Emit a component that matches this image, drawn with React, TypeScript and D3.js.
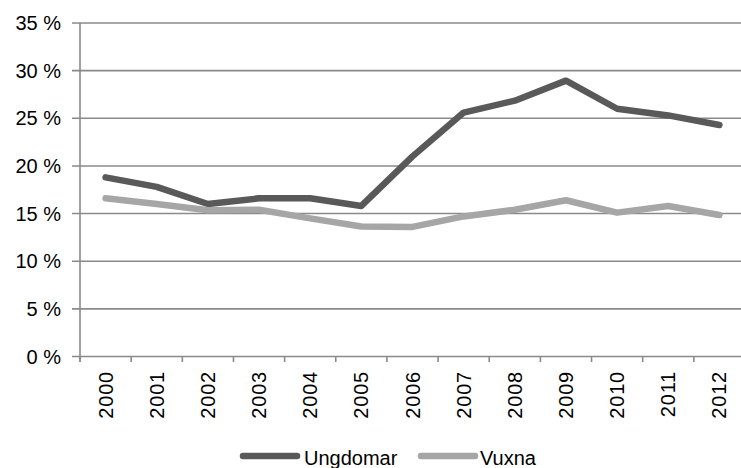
import * as d3 from "d3";

const years = ["2000", "2001", "2002", "2003", "2004", "2005", "2006", "2007", "2008", "2009", "2010", "2011", "2012"];
const ungdomar = [18.8, 17.8, 16.0, 16.6, 16.6, 15.8, 21.0, 25.6, 26.85, 28.95, 26.0, 25.3, 24.3];
const vuxna = [16.6, 16.0, 15.35, 15.4, 14.5, 13.65, 13.6, 14.7, 15.4, 16.4, 15.1, 15.8, 14.85];
const yTicks = [0, 5, 10, 15, 20, 25, 30, 35];

const series = [
  { name: "Ungdomar", values: ungdomar, color: "#595959" },
  { name: "Vuxna", values: vuxna, color: "#a6a6a6" },
];

const W = 741;
const H = 468;
const FONT = "'Liberation Sans', Arial, Helvetica, sans-serif";

export default function App() {
  // plot area, right edge runs a bit past the window like the original
  const x = d3.scaleBand<string>().domain(years).range([80, 745]).padding(0);
  const y = d3.scaleLinear().domain([0, 35]).range([356.5, 23]);

  const line = d3
    .line<number>()
    .x((_, i) => (x(years[i]) as number) + x.bandwidth() / 2)
    .y((d) => y(d));

  const gridColor = "#8a8a8a";

  return (
    <svg
      width={W}
      height={H}
      style={{ position: "absolute", left: 0, top: 0, background: "#fff" }}
      fontFamily={FONT}
    >
      {/* gridlines + y labels */}
      {yTicks.map((t) => (
        <g key={t}>
          <line x1={72} x2={W} y1={y(t)} y2={y(t)} stroke={gridColor} strokeWidth={1.6} />
          <text x={61} y={y(t) + 7} textAnchor="end" fontSize={20} fill="#000">
            {t} %
          </text>
        </g>
      ))}
      {/* y axis */}
      <line x1={80} x2={80} y1={y(35)} y2={y(0) + 5} stroke={gridColor} strokeWidth={1.6} />
      {/* x ticks at band edges */}
      {years.map((yr) => (
        <line
          key={"t" + yr}
          x1={x(yr) as number}
          x2={x(yr) as number}
          y1={y(0)}
          y2={y(0) + 5.5}
          stroke={gridColor}
          strokeWidth={1.6}
        />
      ))}
      {/* x labels */}
      {years.map((yr) => {
        const cx = (x(yr) as number) + x.bandwidth() / 2 + 7;
        return (
          <text
            key={"l" + yr}
            transform={`translate(${cx},${371}) rotate(-90)`}
            textAnchor="end"
            fontSize={20}
            letterSpacing={0.8}
            fill="#000"
          >
            {yr}
          </text>
        );
      })}
      {/* series lines */}
      {series.map((s) => (
        <path
          key={s.name}
          d={line(s.values) as string}
          fill="none"
          stroke={s.color}
          strokeWidth={6.5}
          strokeLinejoin="round"
          strokeLinecap="round"
        />
      ))}
      {/* legend */}
      <g>
        <line x1={243} x2={297} y1={456} y2={456} stroke={series[0].color} strokeWidth={6.5} strokeLinecap="round" />
        <text x={304} y={465} fontSize={20} fill="#000">
          {series[0].name}
        </text>
        <line x1={421} x2={475} y1={456} y2={456} stroke={series[1].color} strokeWidth={6.5} strokeLinecap="round" />
        <text x={480} y={465} fontSize={20} fill="#000">
          {series[1].name}
        </text>
      </g>
    </svg>
  );
}
